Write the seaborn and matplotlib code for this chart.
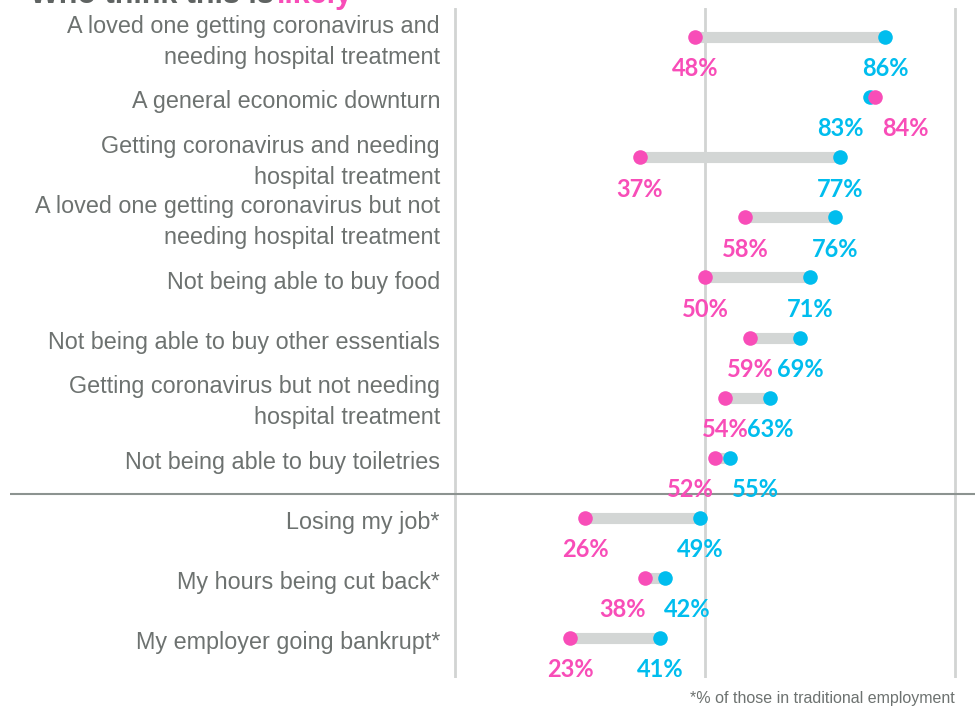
import matplotlib.pyplot as plt
import seaborn as sns
import pandas as pd

# data
categories = [
    "A loved one getting coronavirus and\nneeding hospital treatment",
    "A general economic downturn",
    "Getting coronavirus and needing\nhospital treatment",
    "A loved one getting coronavirus but not\nneeding hospital treatment",
    "Not being able to buy food",
    "Not being able to buy other essentials",
    "Getting coronavirus but not needing\nhospital treatment",
    "Not being able to buy toiletries",
    "Losing my job*",
    "My hours being cut back*",
    "My employer going bankrupt*",
]
likely = [48, 84, 37, 58, 50, 59, 54, 52, 26, 38, 23]
worried = [86, 83, 77, 76, 71, 69, 63, 55, 49, 42, 41]

PINK = "#F84DB8"
BLUE = "#00BDEE"
GREY_TXT = "#6D7270"

df = pd.DataFrame({"cat": categories, "likely": likely, "worried": worried})
df["row"] = range(len(df))

sns.set_style("white")
fig = plt.figure(figsize=(9.75, 7.11), dpi=100)
W, H = 975, 711
# axes from x=10 to 975 px, y=8 to 678 px
ax = fig.add_axes([10 / W, 1 - 678 / H, 965 / W, 670 / H])
XLIM = (-89, 104)
YLIM = (10.666, -0.483)

for v in [0, 50, 100]:
    ax.axvline(v, color="#D2D4D3", lw=2, zorder=0)
ax.axhline(7.6, color="#8C9390", lw=1.5, zorder=1)

ax.hlines(df["row"], df["likely"], df["worried"], color="#D3D6D5", lw=8, zorder=2)
sns.scatterplot(data=df, x="worried", y="row", color=BLUE, s=110, linewidth=0, ax=ax, zorder=3)
sns.scatterplot(data=df, x="likely", y="row", color=PINK, s=110, linewidth=0, ax=ax, zorder=4)
ax.set_xlim(*XLIM)
ax.set_ylim(*YLIM)
ax.axis("off")

for i, r in df.iterrows():
    ax.text(-3, r["row"] + 0.08, r["cat"], ha="right", va="center", fontsize=16.8,
            color=GREY_TXT, family="Liberation Sans", linespacing=1.45)
    xp, xb = r["likely"], r["worried"]
    if abs(xp - xb) < 5:
        mid = (xp + xb) / 2
        sgn = 1 if xb >= xp else -1
        xp, xb = mid - 6.5 * sgn, mid + 6.5 * sgn
    for x, val, c in [(xp, r["likely"], PINK), (xb, r["worried"], BLUE)]:
        ax.text(x, r["row"] + 0.53, f"{val}%", ha="center", va="center",
                fontsize=17, fontweight="bold", color=c, family="Lato")

fig.text(30 / W, 1 - 3 / H, "Who think this is ", ha="left", va="baseline",
         fontsize=22, fontweight="bold", color="#5F6362", family="Liberation Sans")
fig.text(277 / W, 1 - 3 / H, "likely", ha="left", va="baseline",
         fontsize=22, fontweight="bold", color=PINK, family="Liberation Sans")
fig.text(955 / W, 1 - 698 / H, "*% of those in traditional employment", ha="right",
         va="center", fontsize=11.5, color=GREY_TXT, family="Liberation Sans")

fig.savefig("out.png", dpi=100)
